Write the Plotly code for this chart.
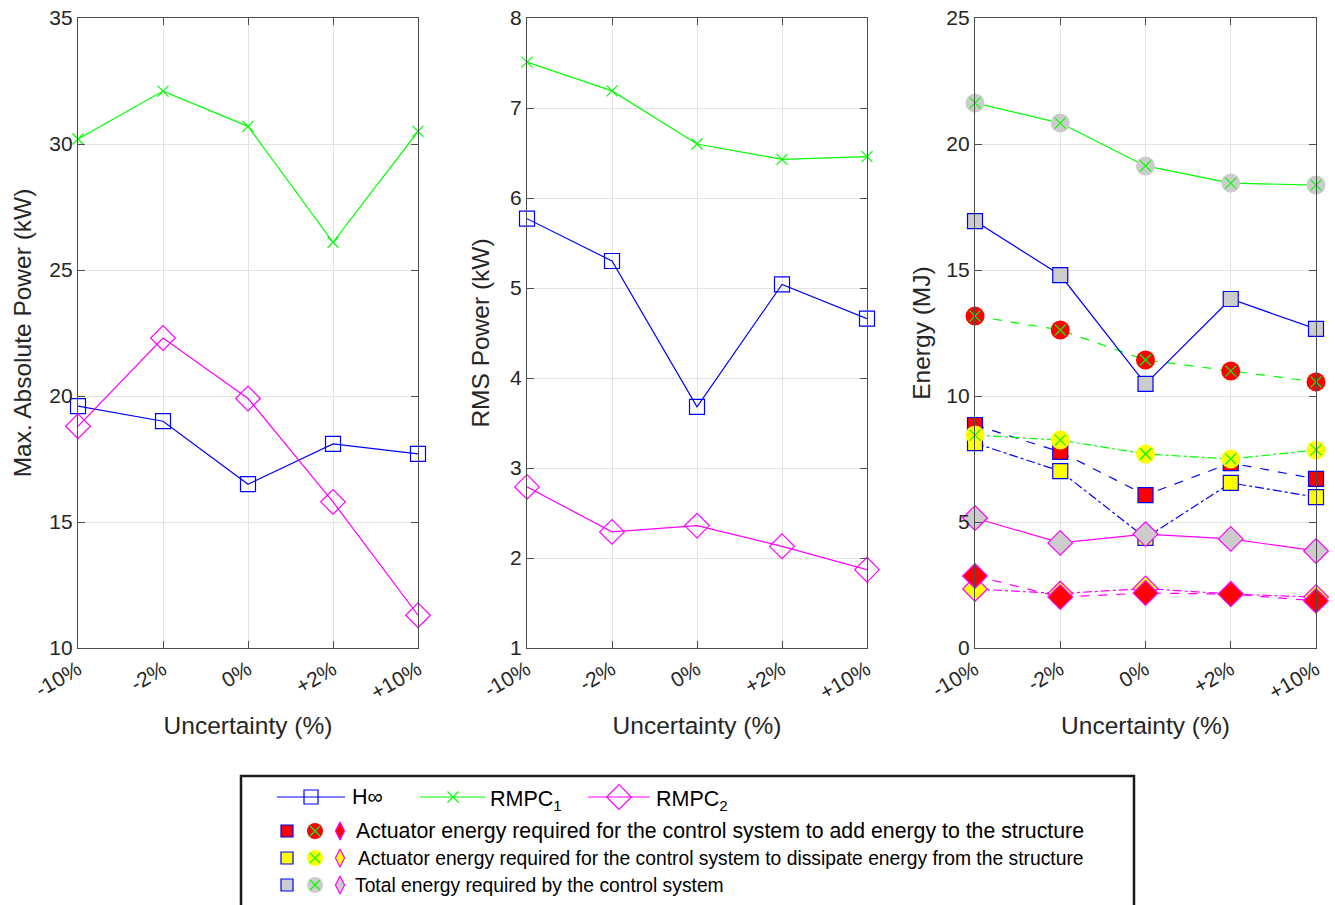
import plotly.graph_objects as go

categories = ["-10%", "-2%", "0%", "+2%", "+10%"]

# Panel 1: Max. absolute power (kW)
max_hinf = [19.6, 19.0, 16.5, 18.1, 17.7]
max_rmpc1 = [30.2, 32.1, 30.7, 26.1, 30.5]
max_rmpc2 = [18.8, 22.3, 19.9, 15.8, 11.3]

# Panel 2: RMS power (kW)
rms_hinf = [5.77, 5.30, 3.68, 5.04, 4.66]
rms_rmpc1 = [7.51, 7.19, 6.60, 6.43, 6.46]
rms_rmpc2 = [2.79, 2.29, 2.36, 2.13, 1.87]

# Panel 3: Energy (MJ)
en_hinf_total = [16.94, 14.80, 10.48, 13.85, 12.66]
en_hinf_add = [8.85, 7.78, 6.07, 7.34, 6.71]
en_hinf_diss = [8.13, 7.02, 4.37, 6.55, 5.99]
en_rmpc1_total = [21.63, 20.83, 19.13, 18.45, 18.37]
en_rmpc1_add = [13.17, 12.62, 11.43, 10.99, 10.56]
en_rmpc1_diss = [8.45, 8.25, 7.70, 7.50, 7.86]
en_rmpc2_total = [5.16, 4.17, 4.52, 4.33, 3.85]
en_rmpc2_add = [2.86, 2.02, 2.18, 2.14, 1.87]
en_rmpc2_diss = [2.34, 2.16, 2.36, 2.14, 2.02]

PW, PH = 1335, 905          # page size
OFF = 0                     # body margin removed by post_script
W, H = PW - OFF, PH - OFF   # figure size
FONT = "Liberation Sans, Arial, Helvetica, sans-serif"
TXT = "#262626"
BLUE, GREEN, MAG = "#0000FF", "#00FF00", "#FF00FF"
RED, YEL, GRAY = "#FF0000", "#FFFF00", "#CCCCCC"

fig = go.Figure()

def px_x(a, b):
    return [(a - OFF) / W, (b - OFF) / W]

def line_trace(x, y, color, symbol, size, ax, dash="solid", fill=None, mline=None, mlw=1.2):
    return go.Scatter(
        x=x, y=y, mode="lines+markers", xaxis="x" + ax, yaxis="y" + ax,
        line=dict(color=color, width=1.2, dash=dash),
        marker=dict(symbol=symbol, size=size,
                    color=fill if fill else color,
                    line=dict(color=mline if mline else color, width=mlw)),
        cliponaxis=False, showlegend=False, hoverinfo="skip")

# Panel 1
fig.add_trace(line_trace(categories, max_hinf, BLUE, "square-open", 15, ""))
fig.add_trace(line_trace(categories, max_rmpc1, GREEN, "x-thin-open", 11, ""))
fig.add_trace(line_trace(categories, max_rmpc2, MAG, "diamond-open", 19, ""))

# Panel 2
fig.add_trace(line_trace(categories, rms_hinf, BLUE, "square-open", 15, "2"))
fig.add_trace(line_trace(categories, rms_rmpc1, GREEN, "x-thin-open", 11, "2"))
fig.add_trace(line_trace(categories, rms_rmpc2, MAG, "diamond-open", 19, "2"))

# Panel 3
def circ_x(y, fill, dash):
    fig.add_trace(go.Scatter(
        x=categories, y=y, mode="lines+markers", xaxis="x3", yaxis="y3",
        line=dict(color=GREEN, width=1.2, dash=dash),
        marker=dict(symbol="circle", size=19, color=fill, line=dict(width=0)),
        cliponaxis=False, showlegend=False, hoverinfo="skip"))
    fig.add_trace(go.Scatter(
        x=categories, y=y, mode="markers", xaxis="x3", yaxis="y3",
        marker=dict(symbol="x-thin-open", size=11, color=GREEN, line=dict(color=GREEN, width=1.2)),
        cliponaxis=False, showlegend=False, hoverinfo="skip"))

fig.add_trace(line_trace(categories, en_hinf_add, BLUE, "square", 15, "3", "dash", RED, BLUE))
fig.add_trace(line_trace(categories, en_hinf_diss, BLUE, "square", 15, "3", "dashdot", YEL, BLUE))
circ_x(en_rmpc1_add, RED, "dash")
circ_x(en_rmpc1_diss, YEL, "dashdot")
fig.add_trace(line_trace(categories, en_rmpc2_diss, MAG, "diamond", 19, "3", "dashdot", YEL, MAG))
fig.add_trace(line_trace(categories, en_rmpc2_add, MAG, "diamond", 19, "3", "dash", RED, MAG))
fig.add_trace(line_trace(categories, en_hinf_total, BLUE, "square", 15, "3", "solid", GRAY, BLUE))
fig.add_trace(line_trace(categories, en_rmpc2_total, MAG, "diamond", 19, "3", "solid", GRAY, MAG))
circ_x(en_rmpc1_total, GRAY, "solid")

# Legend drawn in a page-pixel overlay axis
def lg(x, y, mode, symbol=None, size=10, color=None, lcolor=None, fill=None, lw=1.2, dash="solid"):
    fig.add_trace(go.Scatter(
        x=x, y=y, mode=mode, xaxis="x4", yaxis="y4",
        line=dict(color=lcolor or color, width=1.2, dash=dash),
        marker=dict(symbol=symbol, size=size, color=fill or color,
                    line=dict(color=lcolor or color, width=lw)),
        cliponaxis=False, showlegend=False, hoverinfo="skip"))

ry1, ry2, ry3, ry4 = 797, 831, 858, 885
lg([277, 345], [ry1, ry1], "lines", color=BLUE)
lg([311], [ry1], "markers", "square-open", 14, BLUE)
lg([420, 485], [ry1, ry1], "lines", color=GREEN)
lg([453], [ry1], "markers", "x-thin-open", 11, GREEN)
lg([588, 650], [ry1, ry1], "lines", color=MAG)
lg([619], [ry1], "markers", "diamond-open", 19, MAG)

for ry, fill in [(ry2, RED), (ry3, YEL), (ry4, GRAY)]:
    lg([287], [ry], "markers", "square", 12, fill=fill, lcolor=BLUE)
    lg([315], [ry], "markers", "circle", 16, fill=fill, lcolor=fill, lw=0)
    lg([315], [ry], "markers", "x-thin-open", 10, GREEN)
    lg([340], [ry], "markers", "diamond-tall", 13, fill=fill, lcolor=MAG)

ann = []
def txt(x, y, s, size):
    ann.append(dict(x=x, y=y, xref="x4", yref="y4", text=s, showarrow=False,
                    xanchor="left", yanchor="middle",
                    font=dict(family=FONT, size=size, color="#000000")))
txt(350, ry1, "H∞", 21.5)
txt(488, ry1 + 3, "RMPC<sub>1</sub>", 21.5)
txt(654, ry1 + 3, "RMPC<sub>2</sub>", 21.5)
txt(354, ry2, "Actuator energy required for the control system to add energy to the structure", 21.3)
txt(356, ry3, "Actuator energy required for the control system to dissipate energy from the structure", 19.3)
txt(353, ry4, "Total energy required by the control system", 19.3)

shapes = [dict(type="rect", xref="x4", yref="y4", x0=241, x1=1134, y0=776, y1=920,
               line=dict(color="#1a1a1a", width=2.5), fillcolor="rgba(0,0,0,0)")]

ydom = [(H - (648 - OFF)) / H, (H - (18 - OFF)) / H]
TF = dict(family=FONT, size=24.5, color=TXT)
common_x = dict(type="category", range=[0, 4], tickangle=-30, showgrid=True,
                gridcolor="#E3E3E3", gridwidth=1, showline=True, mirror="ticks",
                linecolor="#4D4D4D", linewidth=1.2, ticks="inside", ticklen=7,
                tickcolor="#4D4D4D", tickfont=dict(family=FONT, size=21, color=TXT),
                title=dict(text="Uncertainty (%)", font=TF, standoff=14),
                zeroline=False, fixedrange=True, automargin=False,
                ticklabeloverflow="allow")
common_y = dict(showgrid=True, gridcolor="#E3E3E3", gridwidth=1, showline=True, mirror="ticks",
                linecolor="#4D4D4D", linewidth=1.2, ticks="inside", ticklen=7,
                tickcolor="#4D4D4D", tickfont=dict(family=FONT, size=21, color=TXT),
                zeroline=False, domain=ydom, fixedrange=True, automargin=False,
                ticklabeloverflow="allow")

fig.update_layout(
    width=W, height=H, margin=dict(l=0, r=0, t=0, b=0),
    paper_bgcolor="white", plot_bgcolor="rgba(0,0,0,0)", showlegend=False,
    xaxis=dict(common_x, domain=px_x(78, 418), anchor="y"),
    yaxis=dict(common_y, range=[10, 35], dtick=5, anchor="x",
               title=dict(text="Max. Absolute Power (kW)", font=TF, standoff=10)),
    xaxis2=dict(common_x, domain=px_x(527, 867), anchor="y2"),
    yaxis2=dict(common_y, range=[1, 8], dtick=1, anchor="x2",
                title=dict(text="RMS Power (kW)", font=TF, standoff=13)),
    xaxis3=dict(common_x, domain=px_x(975, 1316), anchor="y3"),
    yaxis3=dict(common_y, range=[0, 25], dtick=5, anchor="x3",
                title=dict(text="Energy (MJ)", font=TF, standoff=8)),
    xaxis4=dict(domain=[0, 1], range=[OFF, PW], visible=False, fixedrange=True, anchor="y4"),
    yaxis4=dict(domain=[0, 1], range=[PH, OFF], visible=False, fixedrange=True, anchor="x4"),
    annotations=ann, shapes=shapes, hovermode=False,
)

fig.write_html("out.html", config={"displayModeBar": False, "staticPlot": True},
               post_script="document.body.style.margin='0';document.body.style.overflow='hidden';")
